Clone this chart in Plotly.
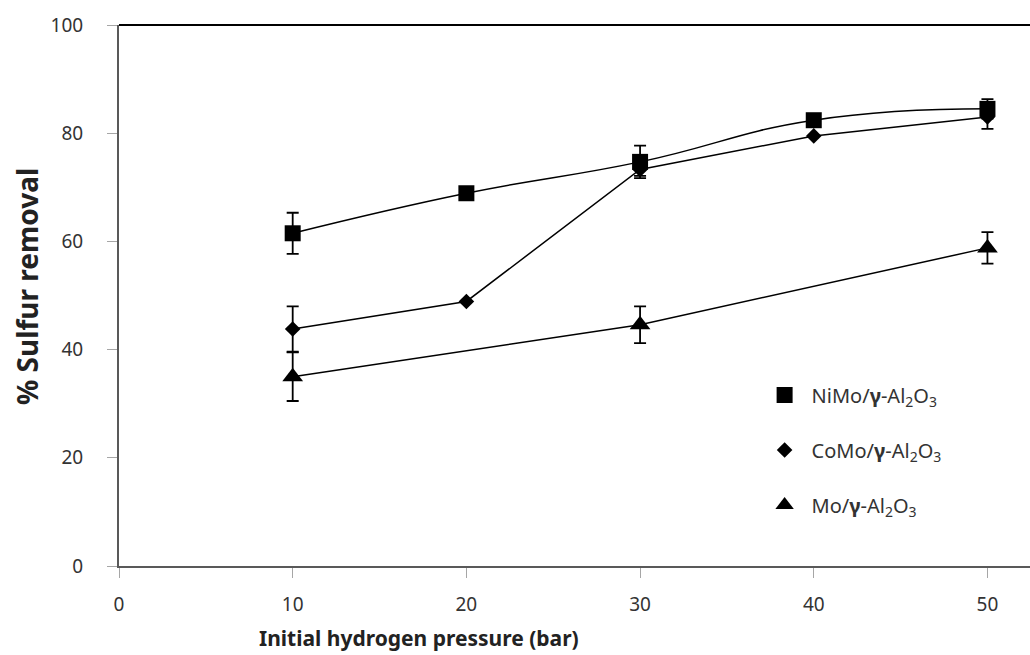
import plotly.graph_objects as go

pressure = [10, 20, 30, 40, 50]
nimo = [61.5, 68.9, 74.7, 82.4, 84.5]
nimo_err = [3.8, None, 3.0, None, 1.8]
como = [43.8, 48.9, 73.3, 79.5, 83.0]
como_err = [4.2, None, 1.2, None, 2.2]
mo_x = [10, 30, 50]
mo = [35.0, 44.6, 58.8]
mo_err = [4.5, 3.4, 2.9]

names = ["NiMo/<b>γ</b>-Al<sub>2</sub>O<sub>3</sub>",
         "CoMo/<b>γ</b>-Al<sub>2</sub>O<sub>3</sub>",
         "Mo/<b>γ</b>-Al<sub>2</sub>O<sub>3</sub>"]

FONT = "Noto Sans"
fig = go.Figure()

def err(arr):
    return dict(type="data", array=arr, visible=True, color="black", thickness=1.8, width=6)

series = [
    (pressure, nimo, nimo_err, names[0], "square", 16, dict(shape="spline", smoothing=1.3), "a"),
    (pressure, como, como_err, names[1], "diamond", 12, dict(), "b"),
    (mo_x, mo, mo_err, names[2], "triangle-up", 18, dict(), "c"),
]
for xs, ys, es, nm, sym, sz, lineopts, grp in series:
    fig.add_trace(go.Scatter(x=xs, y=ys, mode="lines", showlegend=False, hoverinfo="skip",
                             line=dict(color="black", width=1.5, **lineopts), legendgroup=grp))
for xs, ys, es, nm, sym, sz, lineopts, grp in series:
    fig.add_trace(go.Scatter(x=xs, y=ys, name=nm, mode="markers",
                             marker=dict(symbol=sym, size=sz, color="black"),
                             error_y=err(es), legendgroup=grp))

W = 1030
L = 119
fig.update_layout(
    width=W, height=655,
    margin=dict(l=L, r=0, t=25, b=89),
    paper_bgcolor="white", plot_bgcolor="white",
    font=dict(family=FONT, color="#222222"),
    showlegend=True,
    legend=dict(x=0.701, y=0.352, xanchor="left", yanchor="top", tracegroupgap=26,
                font=dict(size=20, family=FONT, color="#333333"),
                bgcolor="rgba(0,0,0,0)", itemwidth=44),
    xaxis=dict(range=[0, 52.45], tickvals=[0, 10, 20, 30, 40, 50],
               showgrid=False, zeroline=False, showline=True, linecolor="#595959", linewidth=2,
               ticks="outside", ticklen=10, tickcolor="#a6a6a6", tickwidth=1,
               tickfont=dict(size=19, family=FONT, color="#333333"), ticklabelstandoff=10),
    yaxis=dict(range=[0, 100], tickvals=[0, 20, 40, 60, 80, 100],
               showgrid=False, zeroline=False, showline=True, linecolor="#595959", linewidth=2,
               ticks="outside", ticklen=10, tickcolor="#a6a6a6", tickwidth=1,
               tickfont=dict(size=19, family=FONT, color="#333333"), ticklabelstandoff=20),
    shapes=[dict(type="line", xref="paper", yref="paper", x0=0, x1=1, y0=1, y1=1,
                 line=dict(color="black", width=2))],
    annotations=[
        dict(text="<b>Initial hydrogen pressure (bar)</b>", xref="paper", yref="paper",
             x=(419 - L) / (W - L), y=-(638 - 566) / 541, xanchor="center", yanchor="middle",
             showarrow=False, font=dict(size=21, family=FONT, color="#222222")),
        dict(text="<b>% Sulfur removal</b>", xref="paper", yref="paper",
             x=(27 - L) / (W - L), y=(566 - 287) / 541, xanchor="center", yanchor="middle",
             textangle=-90, showarrow=False, font=dict(size=28, family=FONT, color="#222222")),
    ],
)

fig.write_html("out.html")
